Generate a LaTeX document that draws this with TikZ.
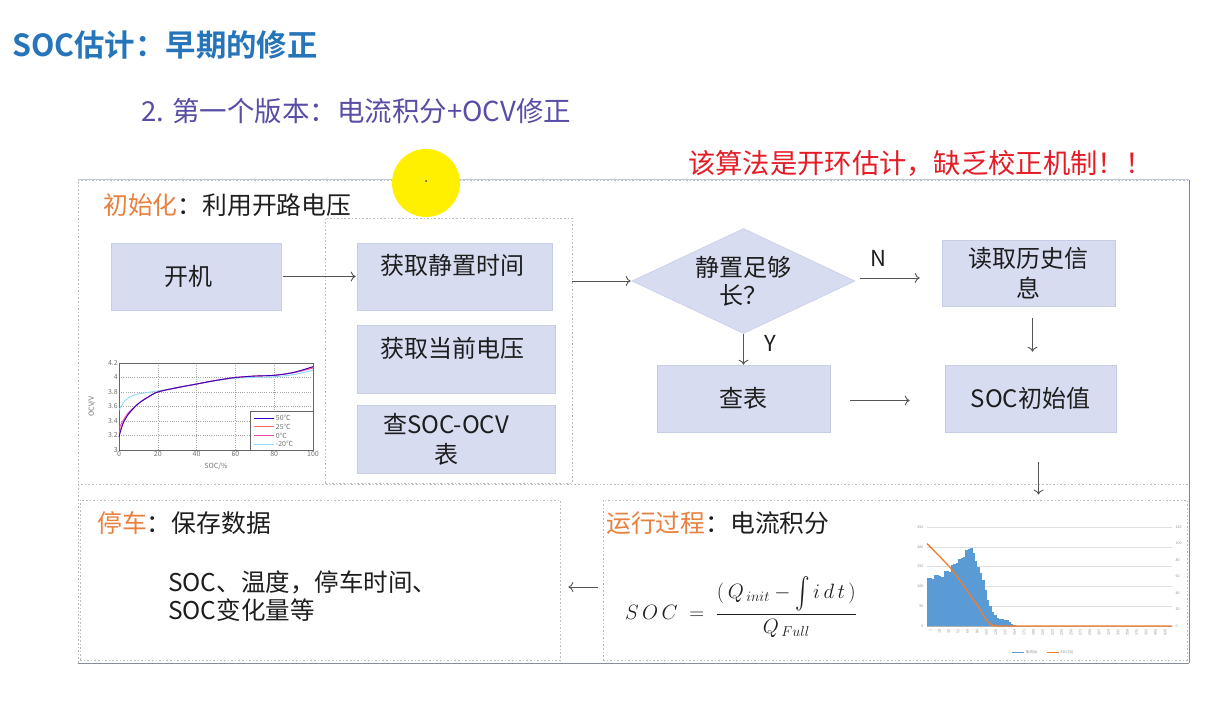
\documentclass[tikz,border=0pt]{standalone}
\usepackage{exscale}
\usepackage{graphicx}
\usepackage{fontspec}
\setmainfont{Noto Sans CJK SC}[BoldFont={Noto Sans CJK SC Bold}]
\usetikzlibrary{shapes.geometric,arrows.meta}
\newcommand{\fsz}[2]{\fontsize{#1}{#2}\selectfont}
\newcommand{\tallint}{\mbox{\raisebox{-0.3ex}{\scalebox{1.05}[1.5]{$\int$}}}}

\definecolor{titleblue}{RGB}{38,116,186}
\definecolor{subpurple}{RGB}{88,78,165}
\definecolor{orng}{RGB}{233,128,62}
\definecolor{alertred}{RGB}{228,28,38}
\definecolor{boxfill}{RGB}{216,220,241}
\definecolor{boxline}{RGB}{200,205,230}
\definecolor{arrowc}{RGB}{85,85,85}
\definecolor{dotc}{RGB}{188,188,188}
\definecolor{txt}{RGB}{30,30,30}
\definecolor{barblue}{RGB}{91,155,213}
\definecolor{lineorange}{RGB}{237,125,49}
\definecolor{hilite}{RGB}{255,240,0}

\begin{document}
\begin{tikzpicture}[x=1pt,y=-1pt,
  box/.style={rectangle, draw=boxline, fill=boxfill, line width=0.6pt, inner sep=0pt,
              align=center, text=txt, font=\fsz{24}{30}},
  dia/.style={diamond, aspect=2.12, draw=boxline, fill=boxfill, line width=0.6pt, inner sep=0pt,
              minimum width=223pt, minimum height=105pt, align=center, text=txt, font=\fsz{24}{28}},
  grp/.style={rectangle, draw=dotc, line width=0.8pt, dash pattern=on 1.6pt off 2pt, inner sep=0pt},
  lbl/.style={anchor=west, inner sep=0pt, text=txt, font=\fsz{24.8}{28}},
  plain/.style={inner sep=0pt, text=txt, font=\fsz{24}{30}, align=center},
  arr/.style={draw=arrowc, line width=0.9pt, -{To[length=5pt,width=10pt]}},
  tick/.style={inner sep=1pt, text=black!55, font=\fsz{7}{8}},
  tinyl/.style={inner sep=0.5pt, text=black!45, font=\fsz{3.6}{4}}
]
\useasboundingbox (0,0) rectangle (1205,706);
\fill[white] (0,0) rectangle (1205,706);

% ---------- headings ----------
\node[anchor=west, inner sep=0pt, text=titleblue, font=\fsz{30.4}{34}\bfseries] (title) at (12,45) {SOC估计：早期的修正};
\node[anchor=west, inner sep=0pt, text=subpurple, font=\fsz{27.5}{32}] (sub) at (141,111) {2. 第一个版本：电流积分+OCV修正};
\node[anchor=west, inner sep=0pt, text=alertred, font=\fsz{27.3}{32}] (warn) at (688,163) {该算法是开环估计，缺乏校正机制！！};

% ---------- frames ----------
\node[grp, minimum width=1111pt, minimum height=483pt] (frm) at (633.5,421.5) {};
\draw[draw={rgb,255:red,190;green,205;blue,222}, line width=1pt] (frm.north west) -- (frm.north east);
\draw[draw={rgb,255:red,115;green,135;blue,165}, line width=1.6pt] (frm.north east) -- (frm.south east);
\draw[draw={rgb,255:red,135;green,142;blue,152}, line width=1.6pt] (frm.south west) -- (frm.south east);
\draw[draw=dotc, line width=0.8pt, dash pattern=on 1.6pt off 2pt] (frm.west |- 0,484) -- (frm.east |- 0,484);

\node[grp, minimum width=247pt, minimum height=265pt] (grp) at (448.5,350.5) {};
\node[grp, minimum width=480pt, minimum height=160pt] (stop) at (320,580) {};
\node[grp, minimum width=584pt, minimum height=160pt] (run) at (895,580) {};

% ---------- section labels ----------
\node[lbl] (l1) at (103,205) {\textcolor{orng}{初始化}：利用开路电压};
\node[lbl] (l2) at (97,523) {\textcolor{orng}{停车}：保存数据};
\node[lbl] (l3) at (606,523) {\textcolor{orng}{运行过程}：电流积分};

% ---------- initialisation flow ----------
\node[box, minimum width=170pt, minimum height=67pt] (kj) at (196,276.5) {};
\node[plain] (kjt) at (188,276) {开机};
\node[box, minimum width=195pt, minimum height=67pt] (hq1) at (454.5,276.5) {};
\node[plain] (hq1t) at (452,265) {获取静置时间};
\node[box, minimum width=198pt, minimum height=68pt] (hq2) at (456,359) {};
\node[plain] (hq2t) at (452,348) {获取当前电压};
\node[box, minimum width=198pt, minimum height=68pt] (cb1) at (456,439) {};
\node[plain] (cb1t) at (446,439) {查SOC-OCV\\表};

\node[dia] (dm) at (743.5,281) {静置足够\\长？};
\node[box, minimum width=173pt, minimum height=66pt] (rd) at (1028.5,273) {读取历史信\\息};
\node[box, minimum width=173pt, minimum height=67pt] (cbx) at (743.5,398.5) {查表};
\node[box, minimum width=171pt, minimum height=67pt] (sv) at (1030.5,398.5) {SOC初始值};

\node[plain, font=\fsz{22}{26}] (ylab) at (770,343) {Y};
\node[plain, font=\fsz{22}{26}] (nlab) at (878,258) {N};

% ---------- connectors ----------
\draw[arr, shorten <=2pt, shorten >=1pt] (kj) -- (hq1);
\draw[arr, shorten >=1pt] (grp.east |- dm.west) -- (dm.west);
\draw[arr] (dm.south) -- (cbx.north);
\draw[arr, shorten <=5pt, shorten >=22pt] ([yshift=3pt]dm.east) -- ([yshift=3pt]dm.east -| rd.west);
\draw[arr, shorten <=12pt, shorten >=13pt] ([xshift=4pt]rd.south) -- ([xshift=4pt]rd.south |- sv.north);
\draw[arr, shorten <=20pt, shorten >=35pt] ([yshift=-2pt]cbx.east) -- ([yshift=-2pt]cbx.east -| sv.west);
\draw[arr, shorten <=30pt, shorten >=5pt] ([xshift=8pt]sv.south) -- ([xshift=8pt]sv.south |- run.north);
\draw[arr, shorten <=5pt, shorten >=8pt] ([yshift=-7pt]run.west) -- ([yshift=-7pt]run.west -| stop.east);

% ---------- parking data ----------
\node[anchor=west, inner sep=0pt, align=left, text=txt, font=\fsz{24.5}{28}] (stoptxt) at (168,596)
  {SOC、温度，停车时间、\\SOC变化量等};

% ---------- coulomb counting formula ----------
\node[inner sep=0pt, text=txt, font=\fsz{21}{25}] (eq) at (741,607)
  {$S\,O\,C\; = \;\displaystyle\frac{(\,Q_{\,init} - \tallint\, i\,d\,t\,)}{Q_{\,Full}}$};

% ---------- OCV-SOC curves ----------
\begin{scope}[shift={(119,450)}, x=1.94pt, y=72.5pt]
  \foreach \s in {20,40,60,80}
    \draw[black!35, line width=0.4pt, dash pattern=on 1pt off 1.2pt] (\s,0) -- (\s,1.2);
  \foreach \v in {0.2,0.4,0.6,0.8,1.0}
    \draw[black!35, line width=0.4pt, dash pattern=on 1pt off 1.2pt] (0,\v) -- (100,\v);
  \draw[black!60, line width=0.5pt] (0,0) rectangle (100,1.2);
  \foreach \s in {0,20,40,60,80,100}
    \node[tick, anchor=north] at (\s,0) {\s};
  \foreach \v/\t in {0/3,0.2/3.2,0.4/3.4,0.6/3.6,0.8/3.8,1.0/4,1.2/4.2}
    \node[tick, anchor=east] at (0,\v) {\t};
  \node[tick, rotate=90] at (-14,0.6) {OCV/V};
  \node[tick] at (50,-0.22) {SOC/\%};
  \draw[cyan!45, line width=0.9pt] plot[smooth] coordinates
    {(0,0.55) (3,0.68) (8,0.76) (14,0.79) (20,0.815) (30,0.86) (40,0.91) (50,0.955) (60,0.99) (70,1.0) (80,1.01) (90,1.04) (100,1.1)};
  \draw[magenta!70, line width=0.9pt] plot[smooth] coordinates
    {(0,0.3) (2,0.4) (5,0.52) (10,0.64) (15,0.73) (20,0.8) (30,0.86) (40,0.91) (50,0.96) (60,1.0) (70,1.02) (80,1.03) (90,1.065) (100,1.13)};
  \draw[red!60, line width=0.9pt] plot[smooth] coordinates
    {(0,0.22) (2,0.37) (5,0.5) (10,0.64) (15,0.73) (20,0.8) (30,0.86) (40,0.91) (50,0.96) (60,1.0) (70,1.02) (80,1.03) (90,1.07) (100,1.14)};
  \draw[blue!60!violet, line width=0.9pt] plot[smooth] coordinates
    {(0,0.18) (2,0.36) (5,0.5) (10,0.64) (15,0.73) (20,0.8) (30,0.86) (40,0.91) (50,0.96) (60,1.0) (70,1.02) (80,1.03) (90,1.07) (100,1.15)};
  \draw[fill=white, draw=black!60, line width=0.5pt] (67.5,0) rectangle (100,0.54);
  \foreach \y/\c/\t in {0.44/blue!60!violet/50℃, 0.32/red!60/25℃, 0.2/magenta!70/0℃, 0.08/cyan!45/-20℃} {
    \draw[\c, line width=1pt] (69.5,\y) -- (80,\y);
    \node[tick, anchor=west, inner sep=0.5pt] at (80.5,\y) {\t};
  }
\end{scope}

% ---------- current / SOC profile ----------
\begin{scope}[shift={(927,626)}, x=1pt, y=0.396pt]
  \foreach \g in {50,100,150,200,250}
    \draw[black!12, line width=0.4pt] (0,\g) -- (245,\g);
  \draw[black!30, line width=0.4pt] (0,0) -- (245,0);
  \foreach \h [count=\i from 0] in {120,122,118,130,128,126,124,138,140,136,154,156,158,170,172,174,
                                    192,195,196,185,165,150,135,115,90,65,50,35,28,20,18,18,16,14,10,6,3}
    \fill[barblue] ({\i*2.4},0) rectangle ({(\i+1)*2.4},\h);
  \draw[lineorange, line width=1.3pt] plot[smooth] coordinates
    {(0,208) (25,142) (45,71) (52,46) (57,25) (61,10) (66,2) (72,0)} -- (245,0);
  \foreach \g in {0,50,100,150,200,250}
    \node[tinyl, anchor=east] at (-3,\g) {\g};
  \foreach \r in {0,20,40,60,80,100,120}
    \node[tinyl, anchor=west] at (248,{\r*2.0833}) {\r};
  \foreach \i in {0,...,25} {
    \pgfmathtruncatemacro\lab{1+17*\i}
    \node[tinyl, rotate=90, anchor=east] at ({3+\i*9.4},-6) {\lab};
  }
\end{scope}
\draw[barblue, line width=1pt] (1012,652) -- (1024,652);
\node[tinyl, anchor=west] (lgA) at (1025,652) {电流(A)};
\draw[lineorange, line width=1pt] (1047,652) -- (1059,652);
\node[tinyl, anchor=west] (lgB) at (1060,652) {SOC(\%)};

% ---------- pointer highlight ----------
\fill[hilite] (426,183) circle (34);
\fill[black!70] (426,181) circle (1);
\end{tikzpicture}
\end{document}
